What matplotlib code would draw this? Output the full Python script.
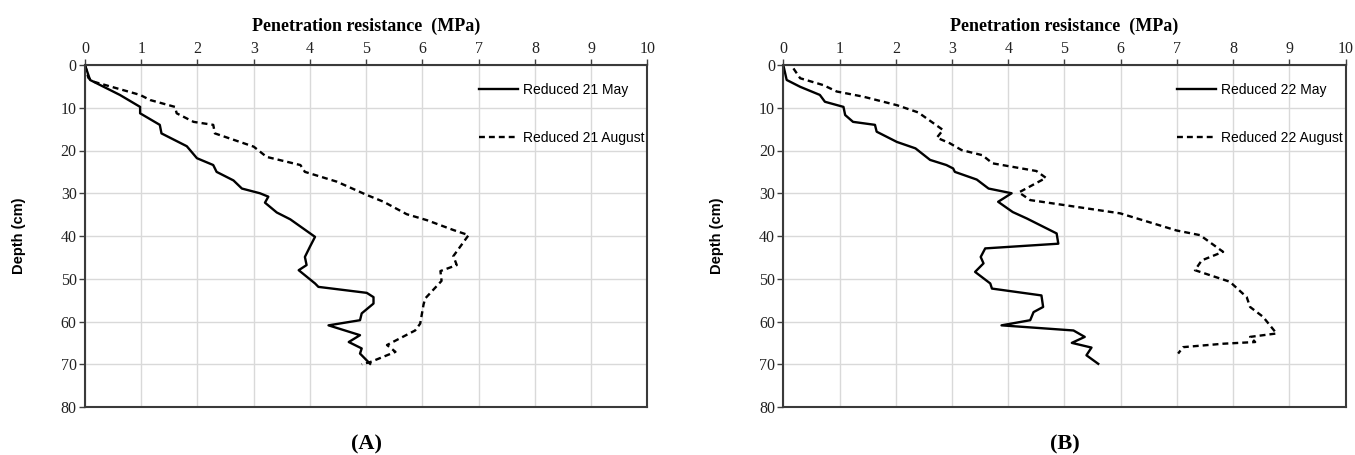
import matplotlib.pyplot as plt

# Penetration resistance (MPa) vs depth (cm)

# Panel A: Reduced 21
a_may_mpa = [0.0, 0.09, 0.62, 0.98, 0.98, 1.33, 1.36, 1.81, 1.99, 2.28, 2.34,
             2.64, 2.79, 3.11, 3.26, 3.20, 3.41, 3.65, 4.09, 4.00, 3.91, 3.94,
             3.80, 4.09, 4.15, 5.01, 5.13, 5.13, 4.92, 4.89, 4.33, 4.89, 4.69,
             4.92, 4.89, 5.07]
a_may_depth = [0.0, 3.5, 7.0, 9.8, 11.3, 14.0, 16.0, 19.0, 21.8, 23.4, 25.0,
               27.0, 28.9, 30.0, 30.8, 32.2, 34.5, 36.1, 40.2, 42.5, 44.9, 46.8,
               48.0, 51.1, 51.9, 53.3, 54.3, 55.8, 58.1, 59.7, 60.9, 63.2, 64.8,
               66.3, 67.5, 69.9]

a_aug_mpa = [0.0, 0.06, 0.15, 0.98, 1.16, 1.60, 1.63, 1.93, 2.28, 2.31, 3.00,
             3.23, 3.83, 3.91, 4.48, 5.01, 5.31, 5.72, 6.08, 6.55, 6.82, 6.55,
             6.61, 6.32, 6.34, 6.05, 6.02, 5.96, 5.87, 5.37, 5.52, 5.07, 4.92]
a_aug_depth = [0.0, 3.0, 3.9, 7.0, 8.2, 9.8, 11.3, 13.3, 14.0, 16.0, 19.1,
               21.5, 23.4, 25.0, 27.3, 30.4, 32.0, 34.9, 36.3, 38.6, 39.8, 44.7,
               46.8, 48.2, 50.5, 54.6, 56.0, 60.5, 62.1, 65.5, 67.1, 69.5, 70.0]

# Panel B: Reduced 22
b_may_mpa = [0.0, 0.06, 0.30, 0.65, 0.74, 1.07, 1.10, 1.24, 1.63, 1.66, 1.90,
             2.02, 2.35, 2.61, 2.90, 3.02, 3.05, 3.44, 3.65, 4.06, 3.82, 4.08,
             4.33, 4.86, 4.89, 3.59, 3.51, 3.56, 3.41, 3.68, 3.71, 4.59, 4.62,
             4.45, 4.39, 3.88, 5.16, 5.36, 5.13, 5.48, 5.39, 5.60]
b_may_depth = [0.0, 3.5, 5.1, 7.0, 8.6, 9.8, 11.7, 13.3, 14.0, 15.6, 17.2,
               18.0, 19.5, 22.2, 23.4, 24.2, 25.0, 26.8, 28.9, 30.0, 32.0, 34.4,
               35.9, 39.4, 41.8, 42.9, 44.9, 46.4, 48.4, 51.1, 52.3, 53.9, 56.6,
               57.8, 59.7, 60.9, 62.1, 63.6, 65.0, 66.1, 67.9, 69.9]

b_aug_mpa = [0.18, 0.30, 0.71, 0.95, 1.42, 2.02, 2.40, 2.84, 2.73, 2.96, 3.17,
             3.54, 3.72, 4.50, 4.67, 4.19, 4.39, 5.22, 5.99, 6.99, 7.41, 7.82,
             7.44, 7.32, 7.94, 8.24, 8.30, 8.53, 8.77, 8.30, 8.39, 7.82, 7.11,
             7.02]
b_aug_depth = [0.8, 3.1, 4.7, 6.2, 7.4, 9.4, 11.1, 15.2, 17.0, 18.3, 19.9,
               21.1, 23.0, 24.8, 26.4, 29.8, 31.6, 33.2, 34.7, 38.7, 39.8, 43.7,
               45.7, 48.0, 50.7, 54.3, 56.6, 58.9, 62.8, 63.6, 64.8, 65.2, 66.0,
               67.5]

panels = [
    ('(A)', a_may_mpa, a_may_depth, a_aug_mpa, a_aug_depth,
     'Reduced 21 May', 'Reduced 21 August'),
    ('(B)', b_may_mpa, b_may_depth, b_aug_mpa, b_aug_depth,
     'Reduced 22 May', 'Reduced 22 August'),
]

serif = 'Liberation Serif'
sans = 'Liberation Sans'

fig = plt.figure(figsize=(13.55, 4.55), dpi=100)
lefts = [85 / 1355, 783.3 / 1355]
width = 562.4 / 1355
bottom = 1 - 407 / 455
height = 342 / 455

for left, (tag, may_x, may_y, aug_x, aug_y, lab_may, lab_aug) in zip(lefts, panels):
    ax = fig.add_axes([left, bottom, width, height])
    ax.plot(may_x, may_y, color='black', linewidth=1.7, label=lab_may)
    ax.plot(aug_x, aug_y, color='black', linewidth=1.7,
            linestyle=(0, (2.5, 1.7)), label=lab_aug)

    ax.set_xlim(0, 10)
    ax.set_ylim(80, 0)
    ax.set_xticks(range(0, 11))
    ax.set_yticks(range(0, 81, 10))
    ax.xaxis.tick_top()
    ax.xaxis.set_label_position('top')
    ax.tick_params(axis='both', direction='out', length=4, width=1,
                   color='#404040', labelsize=11.5, pad=2)
    for lbl in ax.get_xticklabels() + ax.get_yticklabels():
        lbl.set_fontfamily(serif)
        lbl.set_color('#222222')
    ax.grid(color='#d9d9d9', linewidth=1)
    ax.set_axisbelow(True)
    for side in ['top', 'left', 'right', 'bottom']:
        ax.spines[side].set_color('#3a3a3a')
        ax.spines[side].set_linewidth(1.5)

    ax.set_xlabel('Penetration resistance  (MPa)', fontfamily=serif,
                  fontweight='bold', fontsize=13, labelpad=7)
    ax.set_ylabel('Depth (cm)', fontfamily=sans, fontweight='bold',
                  fontsize=10.5, labelpad=25)

    ax.legend(loc='upper left', bbox_to_anchor=(0.69, 0.965), frameon=False,
              prop={'family': sans, 'size': 10}, handlelength=2.8,
              handletextpad=0.4, labelspacing=2.45, borderaxespad=0)

    ax.text(0.5, -0.11, tag, transform=ax.transAxes, ha='center', va='center',
            fontfamily=serif, fontweight='bold', fontsize=16)

fig.savefig('out.png', dpi=100, facecolor='white')
